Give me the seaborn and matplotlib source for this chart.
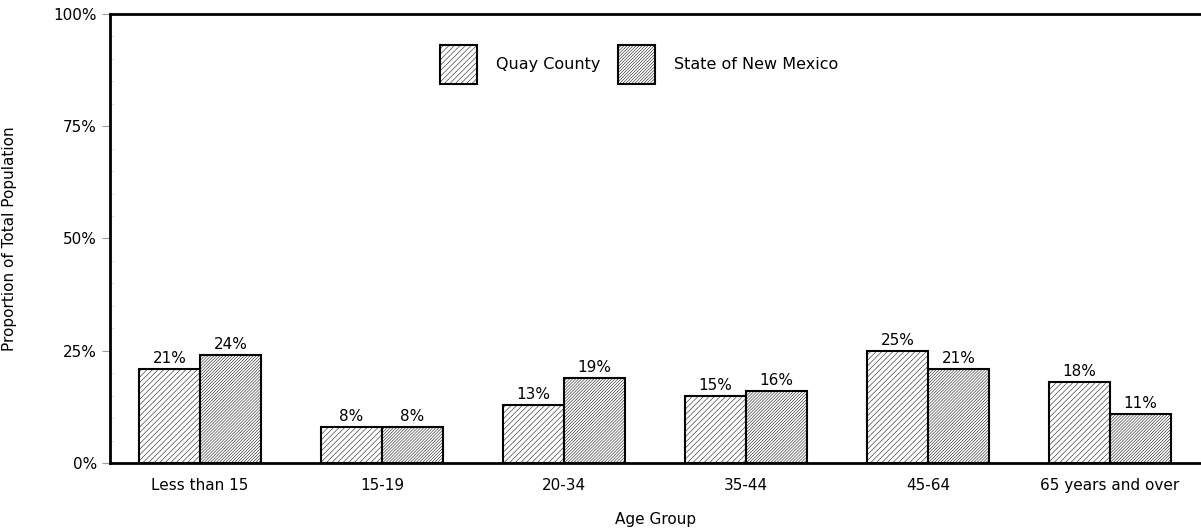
import matplotlib
matplotlib.use("Agg")
import matplotlib.pyplot as plt
from matplotlib.ticker import MultipleLocator, PercentFormatter
import seaborn as sns
import pandas as pd

age_groups = ["Less than 15", "15-19", "20-34", "35-44", "45-64", "65 years and over"]
quay_county = [21, 8, 13, 15, 25, 18]
new_mexico = [24, 8, 19, 16, 21, 11]
series_names = ["Quay County", "State of New Mexico"]
y_ticks = [0, 25, 50, 75, 100]

df = pd.DataFrame({
    "Age Group": age_groups * 2,
    "Share": quay_county + new_mexico,
    "Area": [series_names[0]] * len(age_groups) + [series_names[1]] * len(age_groups),
})

sns.set_style("ticks")
plt.rcParams["font.family"] = ["DejaVu Sans"]
plt.rcParams["text.color"] = "black"
plt.rcParams["hatch.linewidth"] = 0.35
plt.rcParams["hatch.color"] = "#444444"

fig = plt.figure(figsize=(12.01, 5.29), dpi=100)
ax = fig.add_axes([0.0916, 0.1248, 0.9084, 0.8487])

sns.barplot(data=df, x="Age Group", y="Share", hue="Area", order=age_groups,
            hue_order=series_names, palette=["white", "white"], width=0.67,
            edgecolor="black", linewidth=1.5, ax=ax, legend=True, saturation=1)

hatches = ["//////", "///////////"]
for container, hatch in zip(ax.containers, hatches):
    for bar in container:
        bar.set_hatch(hatch)
    ax.bar_label(container, labels=[f"{v:.0f}%" for v in container.datavalues],
                 padding=2, fontsize=11, color="black")

ax.set_xlim(-0.495, 5.5)
ax.set_ylim(0, 100)
ax.set_yticks(y_ticks)
ax.yaxis.set_major_formatter(PercentFormatter(decimals=0))
ax.yaxis.set_minor_locator(MultipleLocator(5))
ax.tick_params(axis="y", which="major", length=6, color="#999999",
               labelsize=11, labelcolor="black")
ax.tick_params(axis="y", which="minor", direction="in", length=3, color="#dddddd")
ax.tick_params(axis="x", length=0, labelsize=11, labelcolor="black", pad=11)

for side in ["left", "top", "bottom"]:
    ax.spines[side].set_linewidth(2)
    ax.spines[side].set_color("black")
ax.spines["right"].set_visible(False)

ax.set_xlabel("Age Group", fontsize=11, color="black")
ax.xaxis.set_label_coords(0.5, -0.11)
ax.set_ylabel("Proportion of Total Population", fontsize=11, color="black")
ax.yaxis.set_label_coords(-0.085, 0.5)

handles, labels = ax.get_legend_handles_labels()
for h, hatch in zip(handles, hatches):
    h.set_hatch(hatch)
    h.set_linewidth(1.5)
ax.legend(handles, labels, loc="upper center", bbox_to_anchor=(0.485, 0.963),
          ncol=2, frameon=False, fontsize=11.5, handlelength=2.3, handleheight=3.4,
          columnspacing=1.1, handletextpad=1.2, labelcolor="black")

fig.savefig("out.png", dpi=100)
